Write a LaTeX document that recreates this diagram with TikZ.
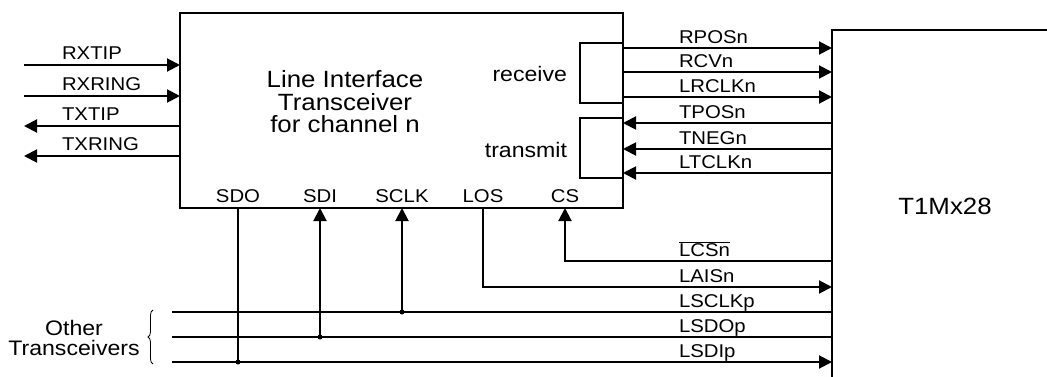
\documentclass[tikz,border=0pt]{standalone}
\usepackage{fontspec}
\setmainfont{Liberation Sans}[FakeStretch=1.1]
\usetikzlibrary{arrows.meta, decorations.pathreplacing}

\begin{document}
\begin{tikzpicture}[x=1pt, y=-1pt, line width=2pt,
    blk/.style = {draw, inner sep=0pt, outer sep=0pt, anchor=north west},
    txt/.style = {inner sep=0pt, font=\fontsize{18.5}{22.5}\selectfont},
    big/.style = {inner sep=0pt, font=\fontsize{21}{20}\selectfont},
    sig/.style = {txt, anchor=base west},
    pin/.style = {txt, anchor=base},
    dot/.style = {circle, fill, inner sep=0pt, minimum size=5pt},
    >={Triangle[length=13pt, width=13pt]}]
\useasboundingbox (0, 0) rectangle (1047, 377);

\node[blk, minimum width=443, minimum height=195] at (180, 13) (lit) {};
\node[blk, minimum width=43, minimum height=60] at (580, 43) (rcv) {};
\node[blk, minimum width=43, minimum height=60] at (580, 118) (xmt) {};
\node[inner sep=0pt, align=center, font=\fontsize{23.5}{22.5}\selectfont] at (345, 102) (littext) {Line Interface\\Transceiver\\for channel n};
\node[big, anchor=east] at (568, 74) (rcvtext) {receive};
\node[big, anchor=east] at (568, 150) (xmttext) {transmit};

\coordinate (t1m) at (832, 30);
\coordinate (t1mtop) at (1047, 30);
\coordinate (t1mbot) at (832, 377);
\draw (t1mtop) -- (t1m) -- (t1mbot);
\node[inner sep=0pt, font=\fontsize{23.5}{26}\selectfont] at (945, 206) (t1mname) {T1Mx28};

% line side
\coordinate (rxtip) at (24, 65);
\coordinate (rxring) at (24, 96);
\coordinate (txtip) at (24, 126);
\coordinate (txring) at (24, 156);
\draw[->] (rxtip) -- (rxtip -| lit.west);
\draw[->] (rxring) -- (rxring -| lit.west);
\draw[<-] (txtip) -- (txtip -| lit.west);
\draw[<-] (txring) -- (txring -| lit.west);
\node[sig] at (61, 60) (rxtiplbl) {RXTIP};
\node[sig] at (61, 91) (rxringlbl) {RXRING};
\node[sig] at (61, 121) (txtiplbl) {TXTIP};
\node[sig] at (61, 151) (txringlbl) {TXRING};

% system side
\draw[->] (lit.east |- 0, 48) -- (t1m |- 0, 48);
\draw[->] (lit.east |- 0, 72) -- (t1m |- 0, 72);
\draw[->] (lit.east |- 0, 97) -- (t1m |- 0, 97);
\draw[<-] (lit.east |- 0, 123) -- (t1m |- 0, 123);
\draw[<-] (lit.east |- 0, 149) -- (t1m |- 0, 149);
\draw[<-] (lit.east |- 0, 173) -- (t1m |- 0, 173);
\node[sig] at (678, 43.5) (rposn) {RPOSn};
\node[sig] at (678, 67.5) (rcvn) {RCVn};
\node[sig] at (678, 92.5) (lrclkn) {LRCLKn};
\node[sig] at (678, 118.5) (tposn) {TPOSn};
\node[sig] at (678, 144.5) (tnegn) {TNEGn};
\node[sig] at (678, 168.5) (ltclkn) {LTCLKn};

% serial port
\node[pin] at (238, 202) (sdolbl) {SDO};
\node[pin] at (320, 202) (sdilbl) {SDI};
\node[pin] at (402, 202) (sclklbl) {SCLK};
\node[pin] at (483, 202) (loslbl) {LOS};
\node[pin] at (565, 202) (cslbl) {CS};
\coordinate (sdo) at (238, 0 |- lit.south);
\coordinate (sdi) at (320, 0 |- lit.south);
\coordinate (sclk) at (402, 0 |- lit.south);
\coordinate (los) at (483, 0 |- lit.south);
\coordinate (cs) at (565, 0 |- lit.south);

\coordinate (bus1) at (172, 312);
\coordinate (bus2) at (172, 337);
\coordinate (bus3) at (172, 362);
\draw (bus1) -- (bus1 -| t1m);
\draw (bus2) -- (bus2 -| t1m);
\draw[->] (bus3) -- (bus3 -| t1m);
\draw (sdo) -- (sdo |- bus3) node[dot] (sdodot) {};
\draw[<-] (sdi) -- (sdi |- bus2) node[dot] (sdidot) {};
\draw[<-] (sclk) -- (sclk |- bus1) node[dot] (sclkdot) {};
\draw[->] (los) |- (t1m |- 0, 287);
\draw[<-] (cs) |- (t1m |- 0, 261);
\node[sig] at (678, 256.5) (lcsn) {$\overline{\mbox{LCSn}}$};
\node[sig] at (678, 282) (laisn) {LAISn};
\node[sig] at (678, 307) (lsclkp) {LSCLKp};
\node[sig] at (678, 332) (lsdop) {LSDOp};
\node[sig] at (678, 357) (lsdip) {LSDIp};

\draw[line width=0.8pt, decorate, decoration={brace, amplitude=5pt}] (153, 364) -- (153, 310);
\node[big, align=center] at (74, 338) (other) {Other\\Transceivers};
\end{tikzpicture}
\end{document}
